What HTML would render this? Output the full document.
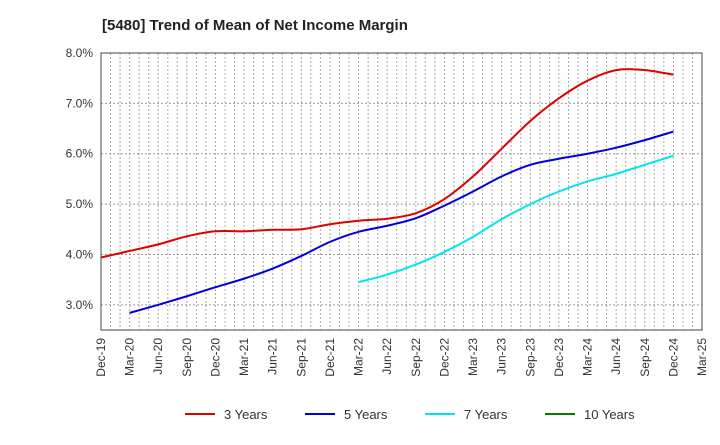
<!DOCTYPE html>
<html><head><meta charset="utf-8"><style>
body{margin:0;background:#fff;font-family:"Liberation Sans",sans-serif}
</style></head><body>
<svg id="c" width="720" height="440" xmlns="http://www.w3.org/2000/svg" font-family="Liberation Sans, sans-serif">
<text x="102" y="30" font-size="15" font-weight="bold" fill="#222">[5480]  Trend of Mean of Net Income Margin</text>
<g id="grid"></g><g id="series"></g><g id="axes"></g><g id="legend"></g>
</svg>
<script>
const quarters=["Dec-19","Mar-20","Jun-20","Sep-20","Dec-20","Mar-21","Jun-21","Sep-21","Dec-21","Mar-22","Jun-22","Sep-22","Dec-22","Mar-23","Jun-23","Sep-23","Dec-23","Mar-24","Jun-24","Sep-24","Dec-24","Mar-25"];
const yTicks=[3,4,5,6,7,8];
const s3=[3.94,4.07,4.2,4.36,4.46,4.46,4.49,4.5,4.6,4.67,4.71,4.82,5.1,5.55,6.1,6.65,7.1,7.45,7.66,7.66,7.57];
const s5=[null,2.84,3.0,3.17,3.35,3.52,3.72,3.97,4.25,4.45,4.57,4.72,4.97,5.25,5.55,5.78,5.9,6.0,6.12,6.27,6.44];
const s7=[null,null,null,null,null,null,null,null,null,3.45,3.6,3.8,4.05,4.35,4.7,5.0,5.25,5.45,5.6,5.78,5.96];
const s10=[];
const L=101,R=702,T=53,B=330,NS="http://www.w3.org/2000/svg";
const xq=i=>L+i*(R-L)/(quarters.length-1);
const yv=v=>T+(8-v)*(B-T)/5.5;
function mk(p,t,a){const e=document.createElementNS(NS,t);for(const k in a)e.setAttribute(k,a[k]);document.getElementById(p).appendChild(e);return e;}
for(let m=1;m<(quarters.length-1)*3;m++){const x=L+m*(R-L)/((quarters.length-1)*3);
const e=mk("grid","line",{x1:x,x2:x,y1:T,y2:B,stroke:"#aaa","stroke-dasharray":"2,2","stroke-width":1});

}
yTicks.forEach(v=>{const y=yv(v);
const g=mk("grid","line",{x1:L,x2:R,y1:y,y2:y,stroke:"#999","stroke-dasharray":"2,2"});


const t=mk("axes","text",{x:L-8,y:y+4,"text-anchor":"end","font-size":12,fill:"#333"});t.textContent=v.toFixed(1)+"%";

});
const fr=mk("axes","rect",{x:L,y:T,width:R-L,height:B-T,fill:"none",stroke:"#444","stroke-width":1});


quarters.forEach((q,i)=>{const x=xq(i);
const t=mk("axes","text",{x:0,y:0,transform:`translate(${x+4},338) rotate(-90)`,"text-anchor":"end","font-size":12,fill:"#333"});t.textContent=q;

});
function path(data){const p=[];data.forEach((v,i)=>{if(v!=null)p.push([xq(i),yv(v)])});if(p.length<2)return"";
let d=`M${p[0][0]},${p[0][1]}`;for(let i=0;i<p.length-1;i++){const p0=p[i-1]||p[i],p1=p[i],p2=p[i+1],p3=p[i+2]||p2;
d+=` C${p1[0]+(p2[0]-p0[0])/6},${p1[1]+(p2[1]-p0[1])/6} ${p2[0]-(p3[0]-p1[0])/6},${p2[1]-(p3[1]-p1[1])/6} ${p2[0]},${p2[1]}`;}return d;}
[[s3,"#e00000","series-3-years"],[s5,"#0000dd","series-5-years"],[s7,"#00e5ee","series-7-years"],[s10,"#008000","series-10-years"]].forEach(([d,c,n])=>{
const pd=path(d);if(!pd)return;const e=mk("series","path",{d:pd,fill:"none",stroke:c,"stroke-width":2});

});
[["3 Years","#e00000",185],["5 Years","#0000dd",305],["7 Years","#00e5ee",425],["10 Years","#008000",545]].forEach(([n,c,x])=>{
const g=mk("legend","g",{});


const l=document.createElementNS(NS,"line");l.setAttribute("x1",x);l.setAttribute("x2",x+30);l.setAttribute("y1",414);l.setAttribute("y2",414);l.setAttribute("stroke",c);l.setAttribute("stroke-width",2);g.appendChild(l);
const t=document.createElementNS(NS,"text");t.setAttribute("x",x+39);t.setAttribute("y",419);t.setAttribute("font-size",13);t.setAttribute("fill","#333");t.textContent=n;g.appendChild(t);});
</script>
</body></html>
